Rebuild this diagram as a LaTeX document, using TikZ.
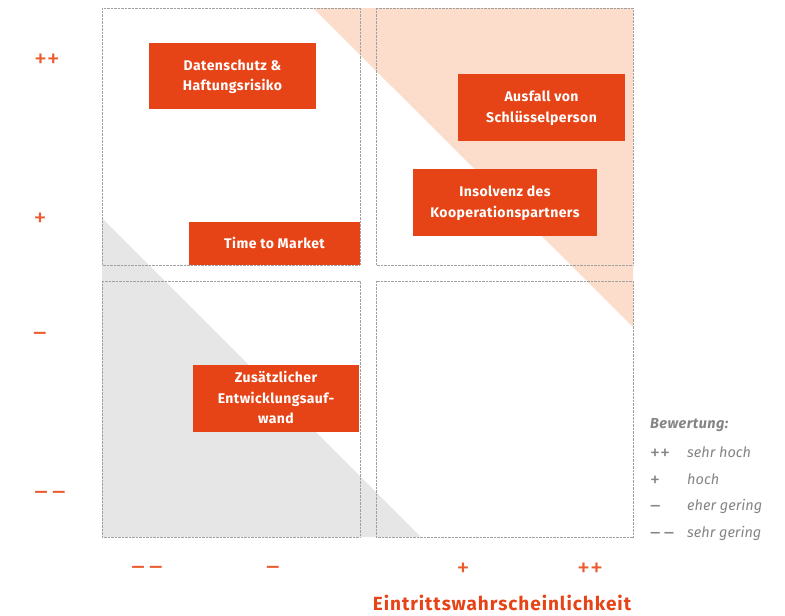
\documentclass[tikz,border=0pt]{standalone}
\usepackage{fontspec}
\setmainfont{Fira Sans}
\definecolor{boxor}{HTML}{E64316}
\definecolor{trior}{HTML}{FCDCCB}
\definecolor{trigr}{HTML}{E6E6E6}
\definecolor{axor}{HTML}{EB5B2E}
\definecolor{legg}{HTML}{858585}
\definecolor{dotg}{HTML}{A0A0A0}
\begin{document}
\begin{tikzpicture}[x=1pt,y=-1pt,
  quad/.style={draw=dotg, line width=0.7pt, dash pattern=on 0.7pt off 0.7pt},
  riskbox/.style={fill=boxor, text=white, font=\fontsize{14}{20.5}\selectfont\bfseries\addfontfeatures{LetterSpace=3}, align=center, inner sep=0pt, text depth=1.5pt},
  axlab/.style={text=axor, font=\fontsize{26}{26}\selectfont, inner sep=0pt},
  legsym/.style={text=legg, font=\fontsize{20}{20}\selectfont, inner sep=0pt, anchor=west},
  leg/.style={text=legg, font=\fontsize{14.5}{15}\selectfont\itshape, inner sep=0pt, anchor=west}]
\useasboundingbox (0,0) rectangle (785,616);
% triangles
\fill[trior] (313,8) -- (633,8) -- (633,327) -- cycle;
\fill[trigr] (102,218) -- (421,537) -- (102,537) -- cycle;
% quadrants
\draw[quad] (102,8) rectangle (360,265);
\draw[quad] (376,8) rectangle (633,265);
\draw[quad] (102,281) rectangle (360,537);
\draw[quad] (376,281) rectangle (633,537);
% boxes
\node[riskbox, minimum width=167, minimum height=66] (b1) at (232.5,76) {Datenschutz \&\\Haftungsrisiko};
\node[riskbox, minimum width=171, minimum height=43] (b2) at (274.5,243.5) {Time to Market};
\node[riskbox, minimum width=167, minimum height=67] (b3) at (541.5,107.5) {Ausfall von\\Schlüsselperson};
\node[riskbox, minimum width=184, minimum height=67] (b4) at (505,202.5) {Insolvenz des\\Kooperationspartners};
\node[riskbox, minimum width=166, minimum height=67] (b5) at (276,398.5) {Zusätzlicher\\Entwicklungsauf-\\wand};
% y axis labels
\node[axlab] (y1) at (47,61) {++};
\node[axlab] (y2) at (40,220) {+};
\node[axlab] (y3) at (40,337) {–};
\node[axlab] (y4) at (50,496) {–\,–};
% x axis labels
\node[axlab] (x1) at (147,571) {–\,–};
\node[axlab] (x2) at (273,571) {–};
\node[axlab] (x3) at (463,570) {+};
\node[axlab] (x4) at (590,570) {++};
\node[text=boxor, font=\fontsize{19}{19}\selectfont\bfseries\addfontfeatures{LetterSpace=5}, inner sep=0pt] (xt) at (502,603) {Eintrittswahrscheinlichkeit};
% legend
\node[leg, font=\fontsize{14.5}{15}\selectfont\bfseries\itshape\addfontfeatures{LetterSpace=3}] (lt) at (650,425) {Bewertung:};
\node[legsym] (l1s) at (650,454) {++};
\node[leg] (l1t) at (687,452) {sehr hoch};
\node[legsym] (l2s) at (650,481) {+};
\node[leg] (l2t) at (687,479) {hoch};
\node[legsym] (l3s) at (650,509) {–};
\node[leg] (l3t) at (687,506) {eher gering};
\node[legsym] (l4s) at (650,536) {–\,–};
\node[leg] (l4t) at (687,533) {sehr gering};
\end{tikzpicture}
\end{document}
